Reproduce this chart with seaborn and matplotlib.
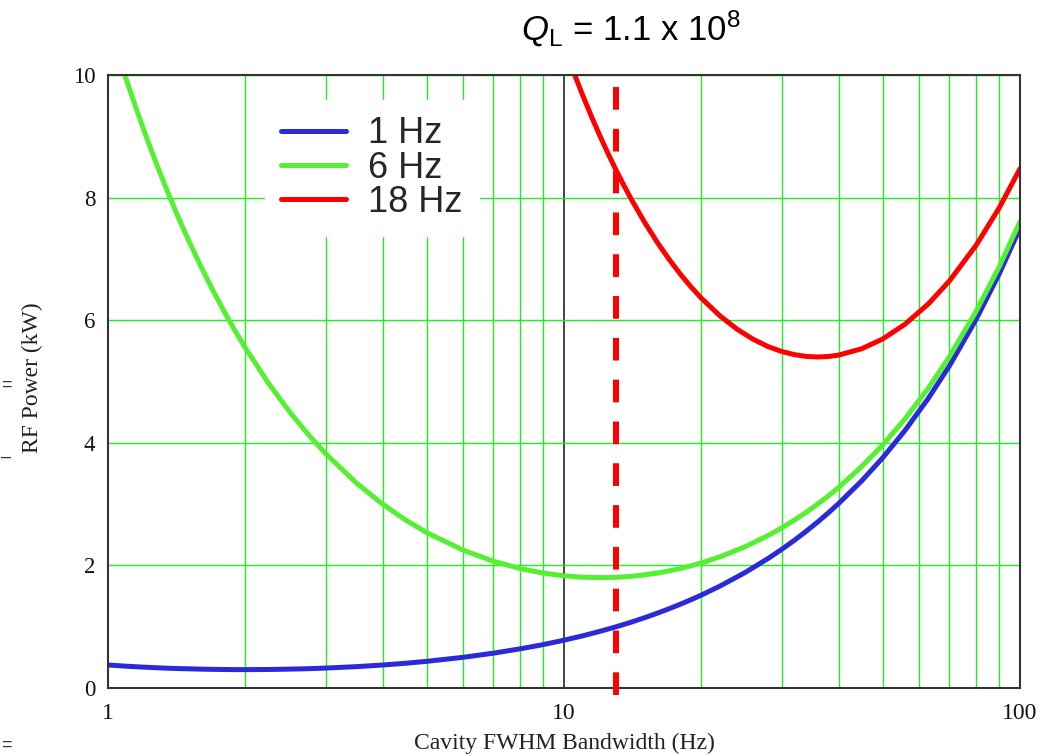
import matplotlib
matplotlib.use("Agg")
import matplotlib.pyplot as plt
import numpy as np
import pandas as pd
import seaborn as sns
from matplotlib.ticker import LogLocator, NullFormatter
from matplotlib.lines import Line2D

# ---------------- data ----------------
bandwidth_hz = [1, 1.05, 1.1, 1.15, 1.2, 1.25, 1.3, 1.35, 1.4, 1.45,
                1.5, 1.6, 1.7, 1.8, 1.9, 2, 2.25, 2.5, 2.75, 3,
                3.5, 4, 4.5, 5, 6, 7, 8, 9, 10, 11,
                12, 13, 14, 15, 16, 17, 18, 19, 20, 22,
                25, 28, 30, 32, 34, 36, 38, 40, 45, 50,
                56, 63, 70, 80, 90, 100]
power_1hz = [0.375, 0.365, 0.355, 0.347, 0.34, 0.334, 0.328, 0.323, 0.319, 0.316,
             0.313, 0.308, 0.304, 0.302, 0.300, 0.300, 0.302, 0.308, 0.315, 0.325,
             0.348, 0.375, 0.404, 0.435, 0.50, 0.568, 0.638, 0.708, 0.78, 0.852,
             0.925, 0.998, 1.071, 1.145, 1.219, 1.293, 1.367, 1.441, 1.515, 1.664,
             1.887, 2.111, 2.26, 2.409, 2.559, 2.708, 2.858, 3.008, 3.382, 3.756,
             4.205, 4.73, 5.254, 6.004, 6.753, 7.503]
power_6hz = [10.875, 10.364, 9.90, 9.477, 9.09, 8.734, 8.405, 8.101, 7.819, 7.557,
             7.313, 6.87, 6.48, 6.135, 5.827, 5.55, 4.969, 4.508, 4.134, 3.825,
             3.348, 3.0, 2.738, 2.535, 2.25, 2.068, 1.95, 1.875, 1.83, 1.807,
             1.80, 1.806, 1.821, 1.845, 1.875, 1.910, 1.95, 1.993, 2.04, 2.141,
             2.307, 2.486, 2.61, 2.738, 2.868, 3.0, 3.134, 3.27, 3.615, 3.966,
             4.393, 4.896, 5.404, 6.135, 6.87, 7.608]
bandwidth_18hz = [10, 10.5, 11, 11.5, 12, 12.5, 13, 13.5, 14, 15,
                  16, 17, 18, 19, 20, 22, 24, 26, 28, 30,
                  32, 34, 36, 38, 40, 45, 50, 56, 63, 70,
                  80, 90, 100]
power_18hz = [10.47, 10.045, 9.661, 9.315, 9.0, 8.714, 8.452, 8.213, 7.993, 7.605,
              7.275, 6.993, 6.75, 6.541, 6.36, 6.068, 5.85, 5.688, 5.571, 5.49,
              5.438, 5.409, 5.40, 5.408, 5.43, 5.535, 5.694, 5.936, 6.268, 6.639,
              7.215, 7.83, 8.472]

series_labels = ["1 Hz", "6 Hz", "18 Hz"]
series_colors = ["#2a2ad8", "#55f033", "#ff0000"]
operating_bandwidth = 13

xtick_values = [1, 10, 100]
xtick_labels = ["1", "10", "100"]
ytick_values = [0, 2, 4, 6, 8, 10]
ytick_labels = ["0", "2", "4", "6", "8", "10"]

title_text = r"$Q_\mathrm{L}$ = 1.1 x 10$^\mathrm{8}$"
x_label = "Cavity FWHM Bandwidth (Hz)"
y_label = "RF Power (kW)"

# ---------------- long-form table ----------------
df = pd.concat([
    pd.DataFrame({"bw": bandwidth_hz, "power": power_1hz, "detuning": series_labels[0]}),
    pd.DataFrame({"bw": bandwidth_hz, "power": power_6hz, "detuning": series_labels[1]}),
    pd.DataFrame({"bw": bandwidth_18hz, "power": power_18hz, "detuning": series_labels[2]}),
], ignore_index=True)

# ---------------- style ----------------
sns.set_theme(style="white")
plt.rcParams["font.family"] = ["Liberation Serif", "DejaVu Serif"]
plt.rcParams["mathtext.fontset"] = "custom"
plt.rcParams["mathtext.rm"] = "Liberation Sans"
plt.rcParams["mathtext.it"] = "Liberation Sans:italic"
plt.rcParams["axes.axisbelow"] = True

fig = plt.figure(figsize=(10.54, 7.56), dpi=100)
fig.patch.set_facecolor("white")
ax = fig.add_axes([108 / 1054, 68 / 756, 912 / 1054, 613 / 756])
ax.set_facecolor("white")

sns.lineplot(data=df, x="bw", y="power", hue="detuning",
             hue_order=series_labels, palette=series_colors,
             linewidth=3.6, legend=False, ax=ax, sort=True)

ax.set_xscale("log")
ax.set_xlim(xtick_values[0], xtick_values[-1])
ax.set_ylim(ytick_values[0], ytick_values[-1])

ax.set_xticks(xtick_values)
ax.set_xticklabels(xtick_labels)
ax.xaxis.set_minor_locator(LogLocator(base=10, subs=np.arange(2, 10)))
ax.xaxis.set_minor_formatter(NullFormatter())
ax.set_yticks(ytick_values)
ax.set_yticklabels(ytick_labels)

ax.grid(False)
ax.grid(which="minor", axis="x", color="#22ee22", linewidth=1.0)
ax.grid(which="major", axis="x", color="#444444", linewidth=1.4)
ax.grid(which="major", axis="y", color="#22ee22", linewidth=1.0)

ax.tick_params(axis="both", which="both", length=0, colors="#111111")
ax.tick_params(axis="y", pad=9, labelsize=16.5)
ax.tick_params(axis="x", pad=11, labelsize=17)

for s in ax.spines.values():
    s.set_color("#333333")
    s.set_linewidth(1.5)

# operating point dashed line
ax.axvline(operating_bandwidth, ymin=-0.012, ymax=0.987, color="#ff0000",
           linewidth=4.3, linestyle=(0, (3.8, 3.2)), clip_on=False, zorder=3)

# axis labels
ax.set_xlabel(x_label, fontsize=17, color="#222222")
ax.xaxis.set_label_coords(0.5, -(733 - 688) / 613)
ax.set_ylabel(y_label, fontsize=17, color="#222222")
ax.yaxis.set_label_coords(-(108 - 43) / 912, 0.506)

# legend
handles = [Line2D([0], [0], color=c, linewidth=3.6) for c in series_colors]
leg = fig.legend(handles, series_labels, loc="upper left",
                 bbox_to_anchor=(265 / 1054, 1 - 100 / 756),
                 bbox_transform=fig.transFigure, borderaxespad=0,
                 frameon=True, fancybox=False, framealpha=1,
                 facecolor="white", edgecolor="white",
                 prop={"family": "Liberation Sans", "size": 26},
                 handlelength=1.8, handletextpad=0.6, labelspacing=-0.02,
                 borderpad=0.45)

# title
fig.text(631 / 1054, 1 - 29 / 756, title_text, ha="center", va="center",
         fontsize=25, family="Liberation Sans", color="black")

# small fragments of neighbouring text seen at the left edge of the reference
for ypix, frag in [(385, "="), (457, "\u2013"), (745, "=")]:
    fig.text(1 / 1054, 1 - ypix / 756, frag, ha="left", va="center",
             fontsize=13, family="Liberation Sans", color="#333333")

fig.savefig("out.png", dpi=100, facecolor="white")
